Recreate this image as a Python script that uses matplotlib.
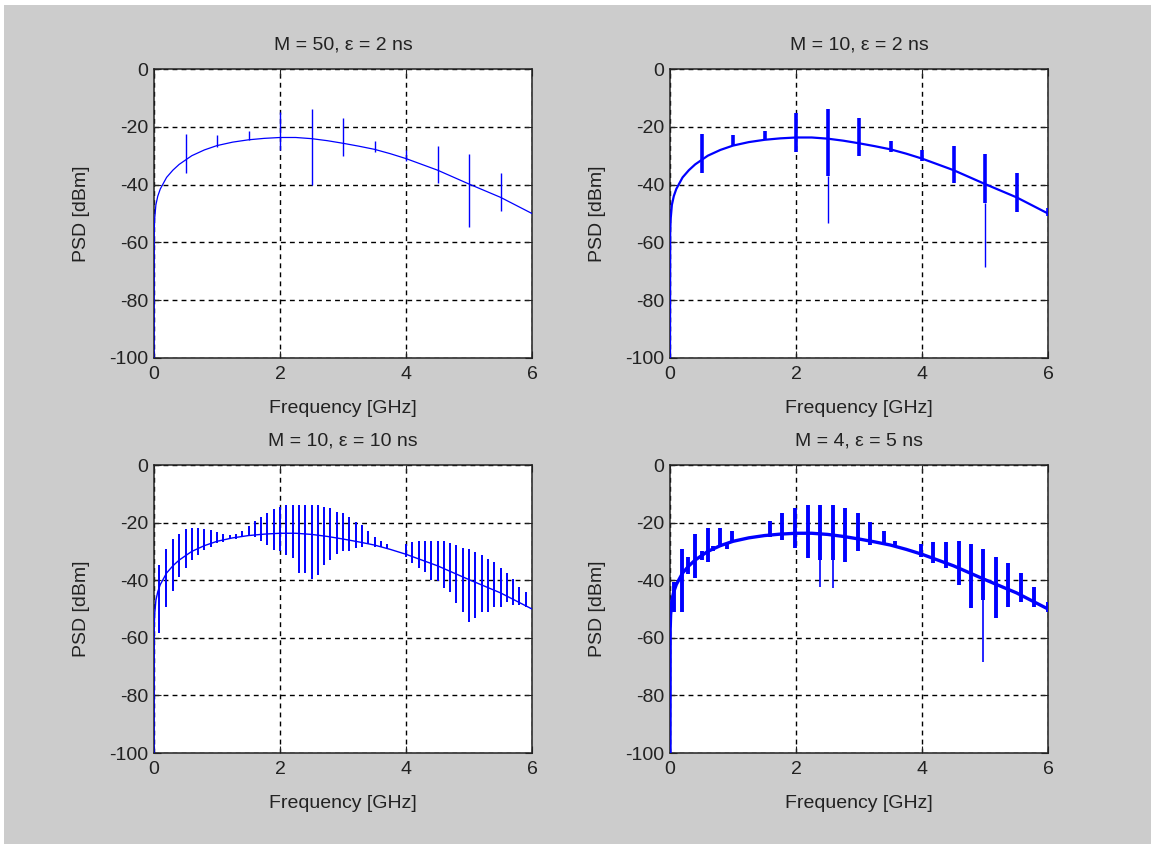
import matplotlib
matplotlib.use("Agg")
import matplotlib.pyplot as plt
from matplotlib.patches import Rectangle

plt.rcParams['font.family'] = ['Liberation Sans', 'DejaVu Sans']
plt.rcParams['axes.unicode_minus'] = False

# common PSD envelope (GHz, dBm)
env_f = [0.0, 0.003, 0.01, 0.03, 0.06, 0.1, 0.15, 0.2, 0.3, 0.4, 0.5, 0.6, 0.8,
         1.0, 1.25, 1.5, 1.75, 2.0, 2.25, 2.5, 2.75, 3.0, 3.25, 3.5, 3.75,
         4.0, 4.25, 4.5, 4.75, 5.0, 5.25, 5.5, 5.75, 6.0]
env_psd = [-100, -57, -52, -47, -44, -41.5, -39.5, -37.5, -35, -33, -31.5, -30, -28,
           -26.5, -25.3, -24.5, -24, -23.7, -23.7, -24.1, -24.8, -25.7, -26.7, -27.8, -29.3,
           -31, -33, -35, -37.4, -39.8, -42.1, -44.4, -47.2, -50]

# M = 50, eps = 2 ns
m50_f = [0.5, 1.0, 1.5, 2.0, 2.5, 3.0, 3.5, 4.0, 4.5, 5.0, 5.5]
m50_top = [-22.5, -23, -21.5, -14.8, -14, -17, -25, -28, -26.5, -29.4, -36]
m50_bot = [-36, -27, -24.5, -28, -40, -30, -28.6, -32, -39.6, -54.6, -49]

# M = 10, eps = 2 ns
m10a_f = [0.5, 1.0, 1.5, 2.0, 2.5, 3.0, 3.5, 4.0, 4.5, 5.0, 5.5, 6.0]
m10a_top = [-22.5, -23, -21.5, -15.3, -14, -17, -25, -28, -26.5, -29.4, -36, -48]
m10a_bot = [-36, -26.5, -24.5, -28.6, -37, -30, -28.6, -32, -39.6, -46.5, -49.4, -51]
m10a_tail_f = [2.5, 5.0]
m10a_tail_top = [-37, -46.5]
m10a_tail_bot = [-53.4, -68.6]

# M = 10, eps = 10 ns
m10b_f = [0.085, 0.19, 0.3, 0.4, 0.5, 0.6, 0.7, 0.8, 0.9, 1.0, 1.1, 1.2, 1.3, 1.4,
          1.5, 1.6, 1.7, 1.8, 1.9, 2.0, 2.1, 2.2, 2.3, 2.4, 2.5, 2.6, 2.7, 2.8, 2.9,
          3.0, 3.1, 3.2, 3.3, 3.4, 3.5, 3.6, 3.7,
          4.0, 4.1, 4.2, 4.3, 4.4, 4.5, 4.6, 4.7, 4.8, 4.9, 5.0, 5.1, 5.2, 5.3, 5.4,
          5.5, 5.6, 5.7, 5.8, 5.9]
m10b_top = [-34.7, -29.3, -25.7, -24.0, -22.2, -21.8, -21.8, -22.2, -22.6, -23.4, -24.0, -24.2, -24.0, -23.0,
            -21.2, -19.4, -18.0, -16.5, -15.4, -14.5, -13.9, -13.9, -13.9, -13.9, -13.9, -13.9, -14.5, -15.0, -16.4,
            -16.8, -18.0, -19.7, -20.8, -22.9, -25.0, -26.3, -27.5,
            -27.5, -26.9, -26.4, -26.4, -26.4, -26.4, -26.4, -27.2, -27.8, -28.7, -29.2, -30.3, -31.2, -32.6, -33.8,
            -35.9, -37.6, -39.6, -42.2, -44.2]
m10b_bot = [-58.4, -49.2, -43.8, -39.0, -35.9, -33.0, -31.2, -29.5, -28.4, -27.2, -26.6, -25.8, -25.6, -25.0,
            -24.3, -24.9, -26.4, -27.8, -29.5, -30.0, -31.2, -32.4, -37.6, -37.6, -39.6, -38.2, -34.7, -33.0, -31.0,
            -30.0, -30.0, -28.9, -28.4, -27.5, -28.6, -28.6, -29.0,
            -31.8, -34.1, -35.9, -37.0, -39.9, -40.3, -42.8, -44.0, -48.0, -50.9, -54.4, -53.2, -50.9, -50.9, -49.2,
            -49.2, -47.5, -48.6, -48.6, -49.2]

# M = 4, eps = 5 ns
m4_f = [0.07, 0.19, 0.29, 0.4, 0.5, 0.6, 0.69, 0.79, 0.9, 0.99, 1.59, 1.78, 1.98, 2.19, 2.38, 2.58,
        2.78, 2.98, 3.17, 3.39, 3.57, 3.98, 4.18, 4.38, 4.58, 4.78, 4.97, 5.17, 5.37, 5.57, 5.78, 6.0]
m4_top = [-40.5, -29.2, -32, -24, -30, -22, -28, -21.8, -27, -22.9, -19.4, -16.5, -15, -13.9, -13.9, -13.9,
          -15, -16.8, -19.7, -23, -26.5, -27.5, -26.9, -26.6, -26.4, -27.5, -29.2, -31.8, -34.1, -37.6, -42.2, -47.5]
m4_bot = [-51, -51, -38, -39.4, -33, -33.6, -30, -28.4, -29, -26.6, -24.9, -26, -28.9, -32.4, -33, -33,
          -33.6, -30, -27.8, -27.8, -28, -31.8, -34.1, -35.9, -41.7, -49.8, -46.9, -53.2, -49.2, -47.5, -49.2, -51]
m4_tail_f = [2.38, 2.58, 4.97]
m4_tail_top = [-33, -33, -46.9]
m4_tail_bot = [-42.2, -42.8, -68.5]

titles = ['M = 50, ε = 2 ns', 'M = 10, ε = 2 ns', 'M = 10, ε = 10 ns', 'M = 4, ε = 5 ns']

W, H = 1151, 844
fig = plt.figure(figsize=(W / 100, H / 100), dpi=100, facecolor='#cccccc')
fig.patches.append(Rectangle((0, 1 - 5 / H), 1, 5 / H, transform=fig.transFigure,
                             facecolor='white', edgecolor='none'))
fig.patches.append(Rectangle((0, 0), 4 / W, 1, transform=fig.transFigure,
                             facecolor='white', edgecolor='none'))

boxes = [(154, 69, 378, 289), (670, 69, 378, 289), (154, 465, 378, 288), (670, 465, 378, 288)]
axes = []
for (x, y, w, h) in boxes:
    axes.append(fig.add_axes([x / W, 1 - (y + h) / H, w / W, h / H]))

blue = '#0000ff'
line_w = [0.9, 1.6, 1.0, 2.4]
for ax, lw in zip(axes, line_w):
    ax.plot(env_f, env_psd, color=blue, lw=lw, zorder=3)

axes[0].vlines(m50_f, m50_bot, m50_top, color=blue, lw=1.0, zorder=3)

axes[1].vlines(m10a_f, m10a_bot, m10a_top, color=blue, lw=2.6, zorder=3)
axes[1].vlines(m10a_tail_f, m10a_tail_bot, m10a_tail_top, color=blue, lw=1.0, zorder=3)

axes[2].vlines(m10b_f, m10b_bot, m10b_top, color=blue, lw=1.4, zorder=3)

axes[3].vlines(m4_f, m4_bot, m4_top, color=blue, lw=2.8, zorder=3)
axes[3].vlines(m4_tail_f, m4_tail_bot, m4_tail_top, color=blue, lw=1.2, zorder=3)

for ax, t in zip(axes, titles):
    ax.set_facecolor('white')
    ax.set_xlim(0, 6)
    ax.set_ylim(-100, 0)
    ax.set_xticks([0, 2, 4, 6])
    ax.set_yticks([-100, -80, -60, -40, -20, 0])
    ax.grid(True, color='black', linestyle=(0, (3.5, 3)), linewidth=1.0)
    ax.tick_params(direction='in', length=5, top=True, right=True, labelsize=14, colors='#222222')
    ax.tick_params(axis='x', pad=6)
    ax.tick_params(axis='y', pad=4)
    for s in ax.spines.values():
        s.set_linewidth(1.1)
        s.set_color('#222222')
    ax.set_title(t, fontsize=14, pad=14, color='#222222')
    ax.set_xlabel('Frequency [GHz]', fontsize=14, labelpad=12, color='#222222')
    ax.set_ylabel('PSD [dBm]', fontsize=14, labelpad=14, color='#222222')

fig.savefig('out.png', dpi=100, facecolor=fig.get_facecolor())
